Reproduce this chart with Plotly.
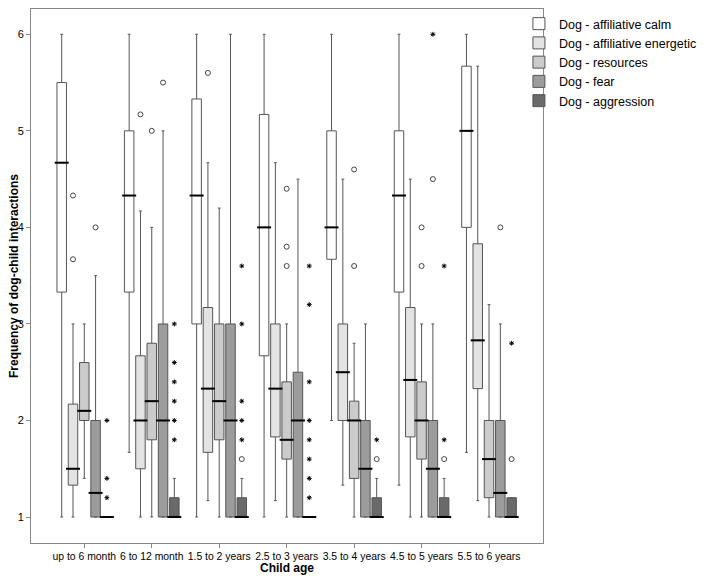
import plotly.graph_objects as go

categories = ["up to 6 month", "6 to 12 month", "1.5 to 2 years", "2.5 to 3 years",
              "3.5 to 4 years", "4.5 to 5 years", "5.5 to 6 years"]
series_names = ["Dog - affiliative calm", "Dog - affiliative energetic", "Dog - resources",
                "Dog - fear", "Dog - aggression"]
series_fill = ["#ffffff", "#e3e3e3", "#cbcbcb", "#9c9c9c", "#6a6a6a"]

# box statistics per series, one value per age group
calm_lower = [1, 1.67, 1, 1, 2, 1.33, 1.67]
calm_q1 = [3.33, 3.33, 3, 2.67, 3.67, 3.33, 4]
calm_median = [4.67, 4.33, 4.33, 4, 4, 4.33, 5]
calm_q3 = [5.5, 5, 5.33, 5.17, 5, 5, 5.67]
calm_upper = [6, 6, 6, 6, 6, 6, 6]

energetic_lower = [1, 1, 1.17, 1.17, 1.33, 1, 1.17]
energetic_q1 = [1.33, 1.5, 1.67, 1.83, 2, 1.83, 2.33]
energetic_median = [1.5, 2, 2.33, 2.33, 2.5, 2.42, 2.83]
energetic_q3 = [2.17, 2.67, 3.17, 3, 3, 3.17, 3.83]
energetic_upper = [3, 4.17, 4.67, 4.67, 4.5, 4.5, 5.67]

resources_lower = [1.4, 1, 1, 1, 1, 1, 1]
resources_q1 = [2, 1.8, 1.8, 1.6, 1.4, 1.6, 1.2]
resources_median = [2.1, 2.2, 2.2, 1.8, 2, 2, 1.6]
resources_q3 = [2.6, 2.8, 3, 2.4, 2.2, 2.4, 2]
resources_upper = [3, 4, 4.2, 3, 2.8, 3, 3.2]

fear_lower = [1, 1, 1, 1, 1, 1, 1]
fear_q1 = [1, 1, 1, 1, 1, 1, 1]
fear_median = [1.25, 2, 2, 2, 1.5, 1.5, 1.25]
fear_q3 = [2, 3, 3, 2.5, 2, 2, 2]
fear_upper = [3.5, 5, 6, 4.5, 3, 3, 3]

aggression_lower = [1, 1, 1, 1, 1, 1, 1]
aggression_q1 = [1, 1, 1, 1, 1, 1, 1]
aggression_median = [1, 1, 1, 1, 1, 1, 1]
aggression_q3 = [1, 1.2, 1.2, 1, 1.2, 1.2, 1.2]
aggression_upper = [1, 1.4, 1.4, 1, 1.4, 1.4, 1.2]

# outliers (o) : age-group index and value
energetic_out_age = [0, 0, 1, 2]
energetic_out_val = [4.33, 3.67, 5.17, 5.6]
resources_out_age = [1, 3, 3, 3, 4, 4, 5, 5]
resources_out_val = [5.0, 4.4, 3.8, 3.6, 4.6, 3.6, 4.0, 3.6]
fear_out_age = [0, 1, 5, 6]
fear_out_val = [4.0, 5.5, 4.5, 4.0]
aggression_out_age = [2, 4, 5, 6]
aggression_out_val = [1.6, 1.6, 1.6, 1.6]

# extreme values (*)
fear_ext_age = [5]
fear_ext_val = [6.0]
aggression_ext_age = [0, 0, 0, 1, 1, 1, 1, 1, 1, 2, 2, 2, 2, 2,
                      3, 3, 3, 3, 3, 3, 3, 3, 4, 5, 5, 6]
aggression_ext_val = [2.0, 1.4, 1.2, 3.0, 2.6, 2.4, 2.2, 2.0, 1.8, 3.6, 3.0, 2.2, 2.0, 1.8,
                      3.6, 3.2, 2.4, 2.0, 1.8, 1.6, 1.4, 1.2, 1.8, 3.6, 1.8, 2.8]

stats = [
    (calm_lower, calm_q1, calm_median, calm_q3, calm_upper),
    (energetic_lower, energetic_q1, energetic_median, energetic_q3, energetic_upper),
    (resources_lower, resources_q1, resources_median, resources_q3, resources_upper),
    (fear_lower, fear_q1, fear_median, fear_q3, fear_upper),
    (aggression_lower, aggression_q1, aggression_median, aggression_q3, aggression_upper),
]
outliers = [([], []), (energetic_out_age, energetic_out_val), (resources_out_age, resources_out_val),
            (fear_out_age, fear_out_val), (aggression_out_age, aggression_out_val)]
extremes = [([], []), ([], []), ([], []), (fear_ext_age, fear_ext_val),
            (aggression_ext_age, aggression_ext_val)]

fig = go.Figure()

for name, fill, (lo, q1, med, q3, hi) in zip(series_names, series_fill, stats):
    fig.add_trace(go.Box(
        x=categories, q1=q1, median=med, q3=q3, lowerfence=lo, upperfence=hi,
        name=name, offsetgroup=name, fillcolor=fill, line=dict(color="#555555", width=1),
        whiskerwidth=0.3, boxpoints=False, hoverinfo="skip",
    ))

# thick black medians, circles and asterisks, placed with scatter grouping
for name, (lo, q1, med, q3, hi) in zip(series_names, stats):
    fig.add_trace(go.Scatter(
        x=categories, y=med, mode="markers", offsetgroup=name, showlegend=False,
        marker=dict(symbol="line-ew", size=10, line=dict(width=2, color="black")),
    ))

for name, (ages, vals) in zip(series_names, outliers):
    if ages:
        fig.add_trace(go.Scatter(
            x=[categories[i] for i in ages], y=vals, mode="markers", offsetgroup=name,
            showlegend=False,
            marker=dict(symbol="circle-open", size=5, color="#444444", line=dict(width=1, color="#444444")),
        ))

for name, (ages, vals) in zip(series_names, extremes):
    if ages:
        fig.add_trace(go.Scatter(
            x=[categories[i] for i in ages], y=vals, mode="markers", offsetgroup=name,
            showlegend=False,
            marker=dict(symbol="asterisk-open", size=4, color="black", line=dict(width=1, color="black")),
        ))

# the page adds an 8px body margin, so the figure is 8px smaller than the window
fig.update_layout(
    width=700, height=573,
    margin=dict(l=23, r=165, t=1, b=38),
    paper_bgcolor="white", plot_bgcolor="white",
    font=dict(family="Liberation Sans, Arial", size=11, color="black"),
    boxmode="group", boxgap=0.163, boxgroupgap=0.16,
    scattermode="group", scattergap=0.163,
    legend=dict(x=0.953, xanchor="left", y=1.0, yanchor="top",
                font=dict(size=12.5), bgcolor="rgba(0,0,0,0)", tracegroupgap=0),
    annotations=[
        dict(text="<b>Frequency of dog-child interactions</b>", xref="paper", yref="paper",
             x=-0.0332, y=0.5, xanchor="center", yanchor="middle", textangle=-90,
             showarrow=False, font=dict(size=12)),
        dict(text="<b>Child age</b>", xref="paper", yref="paper",
             x=0.5, y=-0.0468, xanchor="center", yanchor="middle",
             showarrow=False, font=dict(size=12)),
    ],
)
fig.update_xaxes(
    type="category", range=[-0.79, 6.8], showgrid=False, zeroline=False,
    showline=True, mirror=True, linecolor="#888888", linewidth=1,
    ticks="outside", ticklen=4, tickcolor="#888888", tickangle=0,
    tickfont=dict(size=10.4),
)
fig.update_yaxes(
    range=[0.731, 6.262], tickvals=[1, 2, 3, 4, 5, 6], showgrid=False, zeroline=False,
    showline=True, mirror=True, linecolor="#888888", linewidth=1,
    ticks="outside", ticklen=4, tickcolor="#888888",
)

fig.write_html("out.html")
